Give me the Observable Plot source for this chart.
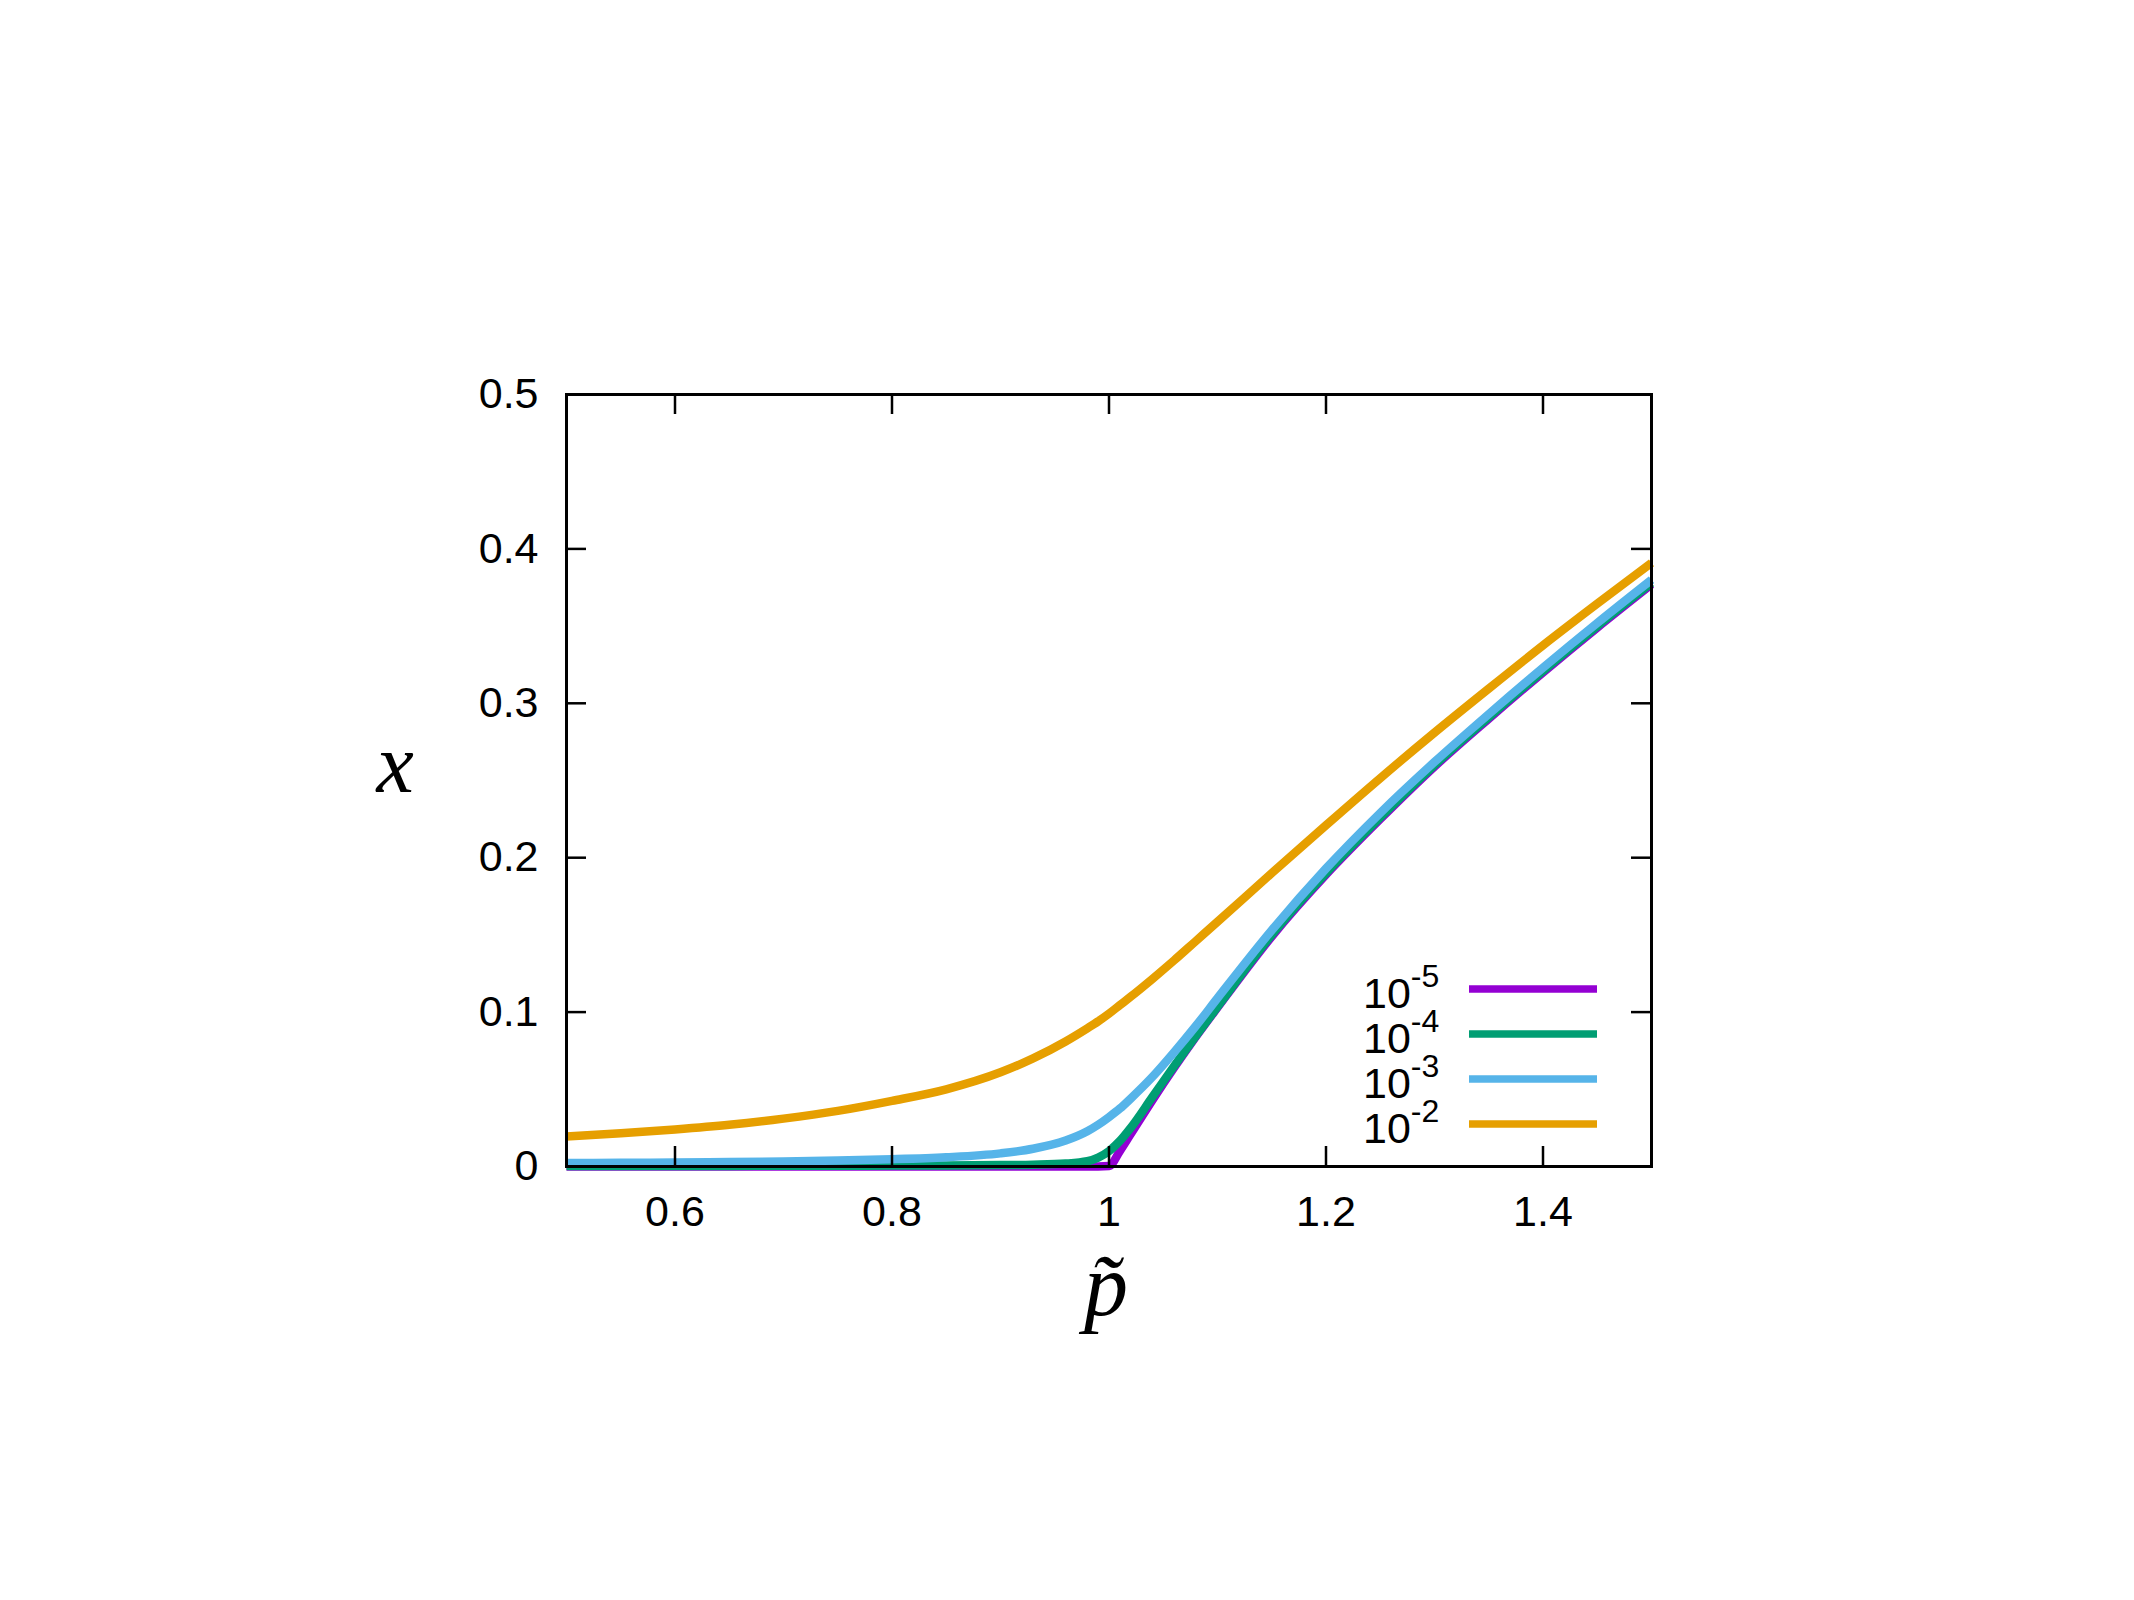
<!DOCTYPE html>
<html>
<head>
<meta charset="utf-8">
<script src="https://cdn.jsdelivr.net/npm/d3@7"></script>
<script src="https://cdn.jsdelivr.net/npm/@observablehq/plot@0.6"></script>
<style>
  html, body { margin: 0; padding: 0; background: #ffffff; }
  #chart { position: relative; width: 2134px; height: 1600px; }
</style>
</head>
<body>
<div id="chart"></div>
<script>
// ---- data ----
const pTilde = [0.50, 0.55, 0.60, 0.65, 0.70, 0.75, 0.80, 0.85, 0.90, 0.93, 0.96, 0.98, 0.99, 1.00,
                1.01, 1.02, 1.04, 1.06, 1.08, 1.10, 1.15, 1.20, 1.25, 1.30, 1.35, 1.40, 1.45, 1.50];

const seriesNames = ["10^-5", "10^-4", "10^-3", "10^-2"];
const seriesColors = ["#9400d3", "#009e73", "#56b4e9", "#e69f00"];

const x_h1e5 = [0, 0, 0, 0, 0, 0, 0, 0, 0, 0, 0, 0, 0, 0.0003,
                0.010, 0.021, 0.043, 0.064, 0.084, 0.103, 0.149, 0.189, 0.225, 0.259, 0.290, 0.320, 0.349, 0.377];
const x_h1e4 = [0.0004, 0.0004, 0.0004, 0.0004, 0.0005, 0.0005, 0.0006, 0.0007, 0.0009, 0.0012, 0.0019, 0.0034, 0.0058, 0.0100,
                0.0165, 0.0250, 0.0450, 0.0650, 0.0845, 0.1035, 0.150, 0.190, 0.226, 0.260, 0.291, 0.321, 0.350, 0.378];
const x_h1e3 = [0.0022, 0.0024, 0.0026, 0.0029, 0.0033, 0.0039, 0.0047, 0.0060, 0.0085, 0.0115, 0.0168, 0.0228, 0.0270, 0.0320,
                0.0375, 0.0440, 0.0580, 0.0740, 0.0910, 0.1090, 0.153, 0.193, 0.229, 0.262, 0.293, 0.323, 0.352, 0.380];
const x_h1e2 = [0.0194, 0.0215, 0.024, 0.027, 0.031, 0.036, 0.0425, 0.050, 0.061, 0.070, 0.081, 0.0895, 0.094, 0.099,
                0.1045, 0.110, 0.1215, 0.1335, 0.146, 0.1585, 0.190, 0.221, 0.2515, 0.281, 0.3095, 0.3375, 0.3645, 0.391];

const xTicks = [0.6, 0.8, 1, 1.2, 1.4];
const yTicks = [0, 0.1, 0.2, 0.3, 0.4, 0.5];
const yInnerTicks = [0.1, 0.2, 0.3, 0.4];

// ---- build table ----
const seriesValues = [x_h1e5, x_h1e4, x_h1e3, x_h1e2];
const rows = [];
seriesValues.forEach((vals, si) => {
  vals.forEach((v, i) => rows.push({p: pTilde[i], x: v, s: seriesNames[si]}));
});

// ---- layout ----
const W = 2134, H = 1600;
const mL = 566, mR = W - 1651, mT = 394, mB = H - 1166;
const frameW = W - mL - mR, frameH = H - mT - mB;
const tickLen = 20;
const fontTick = 43;

const plot = Plot.plot({
  width: W,
  height: H,
  marginLeft: mL, marginRight: mR, marginTop: mT, marginBottom: mB,
  style: {background: "#ffffff", fontFamily: "'Liberation Sans', Arial, Helvetica, sans-serif"},
  x: {domain: [0.5, 1.5], label: null},
  y: {domain: [0, 0.5], label: null},
  color: {domain: seriesNames, range: seriesColors},
  marks: [
    // data lines
    ...seriesNames.map((name) =>
      Plot.line(rows.filter(r => r.s === name), {
        x: "p", y: "x", stroke: "s", strokeWidth: 8.5, curve: "monotone-x",
        strokeLinejoin: "round", strokeLinecap: "butt"
      })
    ),
    // inward ticks on four sides
    Plot.tickX(xTicks, {x: d => d, insetTop: frameH - tickLen, stroke: "black", strokeWidth: 2.5}),
    Plot.tickX(xTicks, {x: d => d, insetBottom: frameH - tickLen, stroke: "black", strokeWidth: 2.5}),
    Plot.tickY(yInnerTicks, {y: d => d, insetRight: frameW - tickLen, stroke: "black", strokeWidth: 2.5}),
    Plot.tickY(yInnerTicks, {y: d => d, insetLeft: frameW - tickLen, stroke: "black", strokeWidth: 2.5}),
    // tick labels
    Plot.axisX(xTicks, {tickSize: 0, tickPadding: 29, fontSize: fontTick, tickFormat: d => String(d), label: null}),
    Plot.axisY(yTicks, {tickSize: 0, tickPadding: 28, fontSize: fontTick, tickFormat: d => String(d), label: null}),
    // frame
    Plot.frame({stroke: "black", strokeWidth: 3}),
    // axis titles
    Plot.text(["x"], {frameAnchor: "left", dx: -(mL - 376), dy: -15, text: d => d,
      fontSize: 84, fontStyle: "italic", fontFamily: "'Liberation Serif', 'DejaVu Serif', serif", fill: "black"}),
    Plot.text(["p\u0303"], {frameAnchor: "bottom", dx: -3, dy: 148, text: d => d,
      fontSize: 88, fontStyle: "italic", fontFamily: "'Liberation Serif', 'DejaVu Serif', serif", fill: "black"})
  ]
});

document.getElementById("chart").appendChild(plot);

// ---- legend (inside the frame, lower right) ----
const svg = d3.select(plot);
const leg = svg.append("g").attr("class", "legend").attr("text-anchor", "start");
const legY0 = 989, legStep = 45, legX1 = 1469, legX2 = 1597, legTextX = 1363;
const expo = ["-5", "-4", "-3", "-2"];
seriesNames.forEach((name, i) => {
  const y = legY0 + i * legStep;
  leg.append("line")
    .attr("x1", legX1).attr("x2", legX2).attr("y1", y).attr("y2", y)
    .attr("stroke", seriesColors[i]).attr("stroke-width", 7.5);
  const t = leg.append("text")
    .attr("x", legTextX).attr("y", y + 19)
    .attr("text-anchor", "start")
    .attr("font-family", "'Liberation Sans', Arial, Helvetica, sans-serif")
    .attr("font-size", 43).attr("fill", "black");
  t.append("tspan").text("10");
  t.append("tspan").attr("dy", -21).attr("font-size", 32).text(expo[i]);
});
</script>
</body>
</html>
